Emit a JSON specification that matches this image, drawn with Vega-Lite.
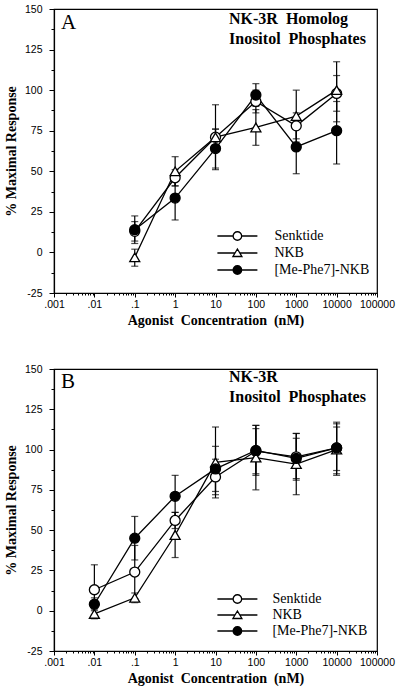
{
  "$schema": "https://vega.github.io/schema/vega-lite/v6.json",
  "padding": {"left": 3, "top": 3, "right": 3, "bottom": 5},
  "spacing": 34,
  "datasets": {
    "A": [
      {"series": "Senktide", "conc": 0.1, "y": 13, "lo": 7, "hi": 19},
      {"series": "Senktide", "conc": 1, "y": 46, "lo": 41, "hi": 51},
      {"series": "Senktide", "conc": 10, "y": 71, "lo": 51, "hi": 91},
      {"series": "Senktide", "conc": 100, "y": 93, "lo": 86, "hi": 100},
      {"series": "Senktide", "conc": 1000, "y": 78, "lo": 70, "hi": 86},
      {"series": "Senktide", "conc": 10000, "y": 98, "lo": 87, "hi": 109},
      {"series": "NKB", "conc": 0.1, "y": -3, "lo": -8.5, "hi": 2},
      {"series": "NKB", "conc": 1, "y": 50, "lo": 41, "hi": 59},
      {"series": "NKB", "conc": 10, "y": 71, "lo": 66, "hi": 76},
      {"series": "NKB", "conc": 100, "y": 77, "lo": 66, "hi": 88},
      {"series": "NKB", "conc": 1000, "y": 84, "lo": 68, "hi": 100},
      {"series": "NKB", "conc": 10000, "y": 100, "lo": 80.5, "hi": 117.5},
      {"series": "[Me-Phe7]-NKB", "conc": 0.1, "y": 14, "lo": 5.5, "hi": 22.5},
      {"series": "[Me-Phe7]-NKB", "conc": 1, "y": 33.5, "lo": 20, "hi": 46},
      {"series": "[Me-Phe7]-NKB", "conc": 10, "y": 64, "lo": 52, "hi": 76},
      {"series": "[Me-Phe7]-NKB", "conc": 100, "y": 97, "lo": 90, "hi": 104},
      {"series": "[Me-Phe7]-NKB", "conc": 1000, "y": 65, "lo": 48.5, "hi": 81.5},
      {"series": "[Me-Phe7]-NKB", "conc": 10000, "y": 75, "lo": 54.5, "hi": 93}
    ],
    "B": [
      {"series": "Senktide", "conc": 0.01, "y": 13, "lo": -2.5, "hi": 28.5},
      {"series": "Senktide", "conc": 0.1, "y": 24, "lo": 7.5, "hi": 40.5},
      {"series": "Senktide", "conc": 1, "y": 56, "lo": 51, "hi": 61},
      {"series": "Senktide", "conc": 10, "y": 83, "lo": 72, "hi": 94},
      {"series": "Senktide", "conc": 100, "y": 99, "lo": 85, "hi": 113},
      {"series": "Senktide", "conc": 1000, "y": 95.5, "lo": 81, "hi": 110},
      {"series": "Senktide", "conc": 10000, "y": 101, "lo": 87, "hi": 114},
      {"series": "NKB", "conc": 0.01, "y": -2, "lo": -5, "hi": 1},
      {"series": "NKB", "conc": 0.1, "y": 8, "lo": 5, "hi": 11},
      {"series": "NKB", "conc": 1, "y": 47, "lo": 33, "hi": 61},
      {"series": "NKB", "conc": 10, "y": 92, "lo": 70, "hi": 114},
      {"series": "NKB", "conc": 100, "y": 95, "lo": 75, "hi": 115},
      {"series": "NKB", "conc": 1000, "y": 91, "lo": 72, "hi": 110},
      {"series": "NKB", "conc": 10000, "y": 100, "lo": 84, "hi": 116},
      {"series": "[Me-Phe7]-NKB", "conc": 0.01, "y": 4, "lo": 0, "hi": 8},
      {"series": "[Me-Phe7]-NKB", "conc": 0.1, "y": 45, "lo": 31.5, "hi": 58.5},
      {"series": "[Me-Phe7]-NKB", "conc": 1, "y": 71, "lo": 58, "hi": 84},
      {"series": "[Me-Phe7]-NKB", "conc": 10, "y": 88, "lo": 74, "hi": 102},
      {"series": "[Me-Phe7]-NKB", "conc": 100, "y": 99.5, "lo": 84, "hi": 115},
      {"series": "[Me-Phe7]-NKB", "conc": 1000, "y": 94.5, "lo": 82, "hi": 107},
      {"series": "[Me-Phe7]-NKB", "conc": 10000, "y": 101, "lo": 85, "hi": 117}
    ]
  },
  "vconcat": [
    {
      "width": 323,
      "height": 284,
      "data": {"name": "A"},
      "encoding": {
        "x": {
          "field": "conc", "type": "quantitative", "title": "Agonist\u00a0 Concentration\u00a0 (nM)",
          "scale": {"type": "log", "domain": [0.001, 100000], "nice": false},
          "axis": {
            "values": [0.001,0.002,0.003,0.004,0.005,0.006,0.007,0.008,0.009,0.01,0.02,0.03,0.04,0.05,0.06,0.07,0.08,0.09,0.1,0.2,0.3,0.4,0.5,0.6,0.7,0.8,0.9,1,2,3,4,5,6,7,8,9,10,20,30,40,50,60,70,80,90,100,200,300,400,500,600,700,800,900,1000,2000,3000,4000,5000,6000,7000,8000,9000,10000,20000,30000,40000,50000,60000,70000,80000,90000,100000],
            "labelExpr": "abs(log(datum.value)/LN10 - round(log(datum.value)/LN10)) < 1e-6 ? (datum.value < 1 ? replace(format(datum.value, '.3~f'), '0.', '.') : format(datum.value, 'd')) : ''",
            "tickSize": {"condition": {"test": "abs(log(datum.value)/LN10 - round(log(datum.value)/LN10)) < 1e-6", "value": 4}, "value": 2},
            "labelOverlap": false, "labelFlush": false, "labelPadding": 2, "grid": false
          }
        },
        "y": {
          "field": "y", "type": "quantitative", "title": "% Maximal Response",
          "scale": {"domain": [-25, 150], "nice": false, "zero": false},
          "axis": {
            "values": [-25,-12.5,0,12.5,25,37.5,50,62.5,75,87.5,100,112.5,125,137.5,150],
            "labelExpr": "datum.value % 25 === 0 ? '' + datum.value : ''",
            "tickSize": {"condition": {"test": "datum.value % 25 === 0", "value": 5}, "value": 3},
            "labelPadding": 7, "labelFlush": false, "grid": false, "titlePadding": 6
          }
        }
      },
      "layer": [
        {"mark": {"type": "rule", "color": "black", "strokeWidth": 1.2},
         "encoding": {"y": {"field": "lo", "type": "quantitative", "title": "% Maximal Response"}, "y2": {"field": "hi"}}},
        {"mark": {"type": "tick", "orient": "horizontal", "color": "black", "size": 7, "thickness": 1.2},
         "encoding": {"y": {"field": "lo", "type": "quantitative", "title": "% Maximal Response"}}},
        {"mark": {"type": "tick", "orient": "horizontal", "color": "black", "size": 7, "thickness": 1.2},
         "encoding": {"y": {"field": "hi", "type": "quantitative", "title": "% Maximal Response"}}},
        {"mark": {"type": "line", "color": "black", "strokeWidth": 1.3},
         "encoding": {"detail": {"field": "series"}}},
        {"mark": {"type": "point", "filled": true, "stroke": "black", "strokeWidth": 1.3, "size": 100, "opacity": 1},
         "encoding": {
           "shape": {"field": "series", "scale": {"domain": ["Senktide", "NKB", "[Me-Phe7]-NKB"], "range": ["circle", "triangle-up", "circle"]}, "legend": null},
           "fill": {"field": "series", "scale": {"domain": ["Senktide", "NKB", "[Me-Phe7]-NKB"], "range": ["white", "white", "black"]}, "legend": null}
         }},
        {"mark": {"type": "point", "filled": false, "color": "black", "size": 100, "opacity": 0},
         "encoding": {
           "shape": {"field": "series",
             "scale": {"domain": ["Senktide", "NKB", "[Me-Phe7]-NKB"],
               "range": ["M-4,0H-0.85M0.85,0H4M-0.85,0A0.85,0.85,0,1,1,0.85,0A0.85,0.85,0,1,1,-0.85,0Z",
                         "M-4,0H-0.48M0.48,0H4M0,-0.8L-0.9,0.7L0.9,0.7Z",
                         "M-4,0H-0.85M0.85,0H4M-0.85,0A0.85,0.85,0,1,1,0.85,0A0.85,0.85,0,1,1,-0.85,0ZM-0.7,0A0.7,0.7,0,1,1,0.7,0A0.7,0.7,0,1,1,-0.7,0ZM-0.55,0A0.55,0.55,0,1,1,0.55,0A0.55,0.55,0,1,1,-0.55,0ZM-0.4,0A0.4,0.4,0,1,1,0.4,0A0.4,0.4,0,1,1,-0.4,0ZM-0.25,0A0.25,0.25,0,1,1,0.25,0A0.25,0.25,0,1,1,-0.25,0ZM-0.1,0A0.1,0.1,0,1,1,0.1,0A0.1,0.1,0,1,1,-0.1,0Z"]},
             "legend": {
               "orient": "none", "legendX": 162, "legendY": 220, "title": null, "padding": 0,
               "labelFont": "Liberation Serif", "labelFontSize": 14, "labelColor": "black",
               "symbolSize": 100, "symbolOffset": 14.4, "labelOffset": 30, "rowPadding": 3,
               "symbolStrokeColor": "black", "symbolFillColor": "transparent", "symbolStrokeWidth": 1.3, "symbolOpacity": 1
             }}
         }},
        {"transform": [{"filter": "datum.series === 'NKB' && datum.conc === 1"}],
         "mark": {"type": "text", "text": "A", "font": "Liberation Serif", "fontSize": 21, "align": "left", "baseline": "alphabetic", "color": "black"},
         "encoding": {"x": {"datum": 0.00149, "type": "quantitative"}, "y": {"datum": 137.7, "type": "quantitative"}}},
        {"transform": [{"filter": "datum.series === 'NKB' && datum.conc === 1"}],
         "mark": {"type": "text", "text": ["NK-3R\u00a0 Homolog", "Inositol\u00a0 Phosphates"], "font": "Liberation Serif", "fontSize": 16, "fontWeight": "bold", "lineHeight": 20, "align": "left", "baseline": "alphabetic", "color": "black"},
         "encoding": {"x": {"datum": 21.6, "type": "quantitative"}, "y": {"datum": 140.8, "type": "quantitative"}}}
      ],
      "resolve": {"scale": {"shape": "independent"}}
    },
    {
      "width": 323,
      "height": 282,
      "data": {"name": "B"},
      "encoding": {
        "x": {
          "field": "conc", "type": "quantitative", "title": "Agonist\u00a0 Concentration\u00a0 (nM)",
          "scale": {"type": "log", "domain": [0.001, 100000], "nice": false},
          "axis": {
            "values": [0.001,0.002,0.003,0.004,0.005,0.006,0.007,0.008,0.009,0.01,0.02,0.03,0.04,0.05,0.06,0.07,0.08,0.09,0.1,0.2,0.3,0.4,0.5,0.6,0.7,0.8,0.9,1,2,3,4,5,6,7,8,9,10,20,30,40,50,60,70,80,90,100,200,300,400,500,600,700,800,900,1000,2000,3000,4000,5000,6000,7000,8000,9000,10000,20000,30000,40000,50000,60000,70000,80000,90000,100000],
            "labelExpr": "abs(log(datum.value)/LN10 - round(log(datum.value)/LN10)) < 1e-6 ? (datum.value < 1 ? replace(format(datum.value, '.3~f'), '0.', '.') : format(datum.value, 'd')) : ''",
            "tickSize": {"condition": {"test": "abs(log(datum.value)/LN10 - round(log(datum.value)/LN10)) < 1e-6", "value": 4}, "value": 2},
            "labelOverlap": false, "labelFlush": false, "labelPadding": 2, "grid": false
          }
        },
        "y": {
          "field": "y", "type": "quantitative", "title": "% Maximal Response",
          "scale": {"domain": [-25, 150], "nice": false, "zero": false},
          "axis": {
            "values": [-25,-12.5,0,12.5,25,37.5,50,62.5,75,87.5,100,112.5,125,137.5,150],
            "labelExpr": "datum.value % 25 === 0 ? '' + datum.value : ''",
            "tickSize": {"condition": {"test": "datum.value % 25 === 0", "value": 5}, "value": 3},
            "labelPadding": 7, "labelFlush": false, "grid": false, "titlePadding": 6
          }
        }
      },
      "layer": [
        {"mark": {"type": "rule", "color": "black", "strokeWidth": 1.2},
         "encoding": {"y": {"field": "lo", "type": "quantitative", "title": "% Maximal Response"}, "y2": {"field": "hi"}}},
        {"mark": {"type": "tick", "orient": "horizontal", "color": "black", "size": 7, "thickness": 1.2},
         "encoding": {"y": {"field": "lo", "type": "quantitative", "title": "% Maximal Response"}}},
        {"mark": {"type": "tick", "orient": "horizontal", "color": "black", "size": 7, "thickness": 1.2},
         "encoding": {"y": {"field": "hi", "type": "quantitative", "title": "% Maximal Response"}}},
        {"mark": {"type": "line", "color": "black", "strokeWidth": 1.3},
         "encoding": {"detail": {"field": "series"}}},
        {"mark": {"type": "point", "filled": true, "stroke": "black", "strokeWidth": 1.3, "size": 100, "opacity": 1},
         "encoding": {
           "shape": {"field": "series", "scale": {"domain": ["Senktide", "NKB", "[Me-Phe7]-NKB"], "range": ["circle", "triangle-up", "circle"]}, "legend": null},
           "fill": {"field": "series", "scale": {"domain": ["Senktide", "NKB", "[Me-Phe7]-NKB"], "range": ["white", "white", "black"]}, "legend": null}
         }},
        {"mark": {"type": "point", "filled": false, "color": "black", "size": 100, "opacity": 0},
         "encoding": {
           "shape": {"field": "series",
             "scale": {"domain": ["Senktide", "NKB", "[Me-Phe7]-NKB"],
               "range": ["M-4,0H-0.85M0.85,0H4M-0.85,0A0.85,0.85,0,1,1,0.85,0A0.85,0.85,0,1,1,-0.85,0Z",
                         "M-4,0H-0.48M0.48,0H4M0,-0.8L-0.9,0.7L0.9,0.7Z",
                         "M-4,0H-0.85M0.85,0H4M-0.85,0A0.85,0.85,0,1,1,0.85,0A0.85,0.85,0,1,1,-0.85,0ZM-0.7,0A0.7,0.7,0,1,1,0.7,0A0.7,0.7,0,1,1,-0.7,0ZM-0.55,0A0.55,0.55,0,1,1,0.55,0A0.55,0.55,0,1,1,-0.55,0ZM-0.4,0A0.4,0.4,0,1,1,0.4,0A0.4,0.4,0,1,1,-0.4,0ZM-0.25,0A0.25,0.25,0,1,1,0.25,0A0.25,0.25,0,1,1,-0.25,0ZM-0.1,0A0.1,0.1,0,1,1,0.1,0A0.1,0.1,0,1,1,-0.1,0Z"]},
             "legend": {
               "orient": "none", "legendX": 162, "legendY": 223, "title": null, "padding": 0,
               "labelFont": "Liberation Serif", "labelFontSize": 14, "labelColor": "black",
               "symbolSize": 100, "symbolOffset": 14.4, "labelOffset": 28, "rowPadding": 2,
               "symbolStrokeColor": "black", "symbolFillColor": "transparent", "symbolStrokeWidth": 1.3, "symbolOpacity": 1
             }}
         }},
        {"transform": [{"filter": "datum.series === 'NKB' && datum.conc === 1"}],
         "mark": {"type": "text", "text": "B", "font": "Liberation Serif", "fontSize": 21, "align": "left", "baseline": "alphabetic", "color": "black"},
         "encoding": {"x": {"datum": 0.00149, "type": "quantitative"}, "y": {"datum": 138.2, "type": "quantitative"}}},
        {"transform": [{"filter": "datum.series === 'NKB' && datum.conc === 1"}],
         "mark": {"type": "text", "text": ["NK-3R", "Inositol\u00a0 Phosphates"], "font": "Liberation Serif", "fontSize": 16, "fontWeight": "bold", "lineHeight": 20, "align": "left", "baseline": "alphabetic", "color": "black"},
         "encoding": {"x": {"datum": 21.6, "type": "quantitative"}, "y": {"datum": 141.9, "type": "quantitative"}}}
      ],
      "resolve": {"scale": {"shape": "independent"}}
    }
  ],
  "config": {
    "view": {"stroke": "black", "strokeWidth": 1.2},
    "axis": {
      "domainColor": "black", "domainWidth": 1.2, "tickColor": "black", "tickWidth": 1,
      "labelFont": "Liberation Sans", "labelFontSize": 10.5, "labelColor": "black",
      "titleFont": "Liberation Serif", "titleFontSize": 14, "titleFontWeight": "bold", "titleColor": "black"
    }
  }
}
